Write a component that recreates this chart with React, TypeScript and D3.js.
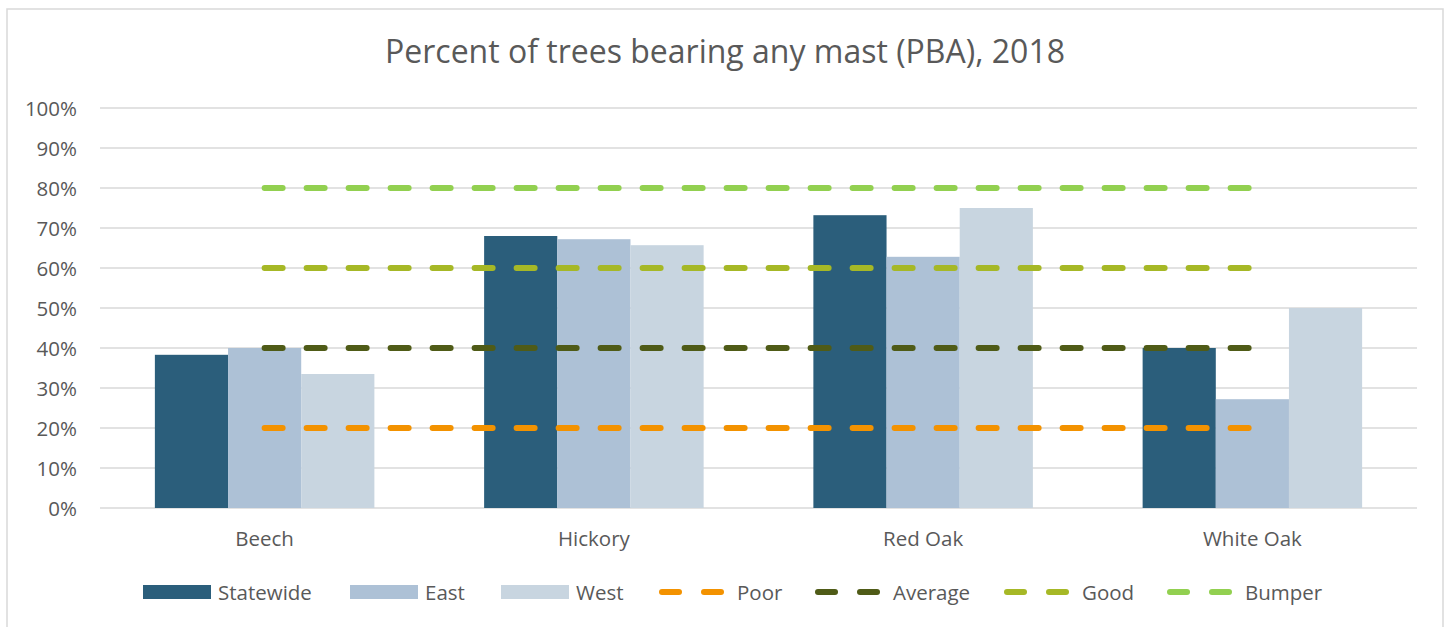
import React from "react";
import * as d3 from "d3";

const categories = ["Beech", "Hickory", "Red Oak", "White Oak"];
const barSeries = ["Statewide", "East", "West"];
const statewide = [0.383, 0.68, 0.732, 0.4];
const east = [0.4, 0.672, 0.628, 0.272];
const west = [0.335, 0.657, 0.75, 0.5];
const lineSeries = ["Poor", "Average", "Good", "Bumper"];
const poor = [0.2, 0.2, 0.2, 0.2];
const average = [0.4, 0.4, 0.4, 0.4];
const good = [0.6, 0.6, 0.6, 0.6];
const bumper = [0.8, 0.8, 0.8, 0.8];
const yTicks = [0, 0.1, 0.2, 0.3, 0.4, 0.5, 0.6, 0.7, 0.8, 0.9, 1];

const barColors = ["#2b5e7b", "#adc1d6", "#c8d5e0"];
const lineColors = ["#f39200", "#4f5b17", "#a6b826", "#92d050"];
const textColor = "#595959";
const font = "'Open Sans', Lato, sans-serif";

const W = 1450;
const H = 627;
const plot = { left: 100, right: 1417, top: 108, bottom: 508 };

// legend layout: x of swatch start for each entry
const legendX = [143, 350, 501, 659, 815, 1004, 1167];

export default function App() {
  const x = d3
    .scaleBand<string>()
    .domain(categories)
    .range([plot.left, plot.right]);
  const bw = x.bandwidth();
  const barW = bw / (3 + 1.5);
  const y = d3.scaleLinear().domain([0, 1]).range([plot.bottom, plot.top]);
  const fmt = d3.format(".0%");

  const barData = [statewide, east, west];
  const lineData = [poor, average, good, bumper];
  const line = d3
    .line<number>()
    .x((_, i) => (x(categories[i]) as number) + bw / 2)
    .y((d) => y(d));

  return (
    <svg
      width={W}
      height={H}
      style={{ position: "absolute", left: 0, top: 0, fontFamily: font }}
    >
      <rect x={0} y={0} width={W} height={H} fill="#fff" />
      <rect
        x={7}
        y={9}
        width={1436}
        height={640}
        fill="none"
        stroke="#d9d9d9"
        strokeWidth={1.5}
      />
      <text x={725} y={63} textAnchor="middle" fontSize={32} fill={textColor}>
        Percent of trees bearing any mast (PBA), 2018
      </text>

      {yTicks.map((t) => (
        <g key={t}>
          <line
            x1={plot.left}
            x2={plot.right}
            y1={y(t)}
            y2={y(t)}
            stroke="#d9d9d9"
            strokeWidth={1.5}
          />
          <text
            x={77}
            y={y(t) + 7.5}
            textAnchor="end"
            fontSize={20.5}
            fill={textColor}
          >
            {fmt(t)}
          </text>
        </g>
      ))}

      {barData.map((vals, s) =>
        vals.map((v, i) => {
          const x0 = (x(categories[i]) as number) + bw / 2 - 1.5 * barW + s * barW;
          return (
            <rect
              key={`${s}-${i}`}
              x={x0}
              y={y(v)}
              width={barW}
              height={y(0) - y(v)}
              fill={barColors[s]}
            />
          );
        })
      )}

      {categories.map((c) => (
        <text
          key={c}
          x={(x(c) as number) + bw / 2}
          y={546}
          textAnchor="middle"
          fontSize={20.5}
          fill={textColor}
        >
          {c}
        </text>
      ))}

      {lineData.map((vals, k) => (
        <path
          key={k}
          d={line(vals) ?? ""}
          fill="none"
          stroke={lineColors[k]}
          strokeWidth={6}
          strokeLinecap="round"
          strokeDasharray="18 24"
        />
      ))}

      {barSeries.map((name, s) => (
        <g key={name} transform={`translate(${legendX[s]},592)`}>
          <rect x={0} y={-7} width={68} height={14} fill={barColors[s]} />
          <text x={75} y={7.5} fontSize={20.5} fill={textColor}>
            {name}
          </text>
        </g>
      ))}
      {lineSeries.map((name, k) => (
        <g key={name} transform={`translate(${legendX[k + 3]},592)`}>
          {[3, 45].map((dx) => (
            <line
              key={dx}
              x1={dx}
              x2={dx + 17}
              y1={0}
              y2={0}
              stroke={lineColors[k]}
              strokeWidth={6}
              strokeLinecap="round"
            />
          ))}
          <text x={78} y={7.5} fontSize={20.5} fill={textColor}>
            {name}
          </text>
        </g>
      ))}
    </svg>
  );
}
